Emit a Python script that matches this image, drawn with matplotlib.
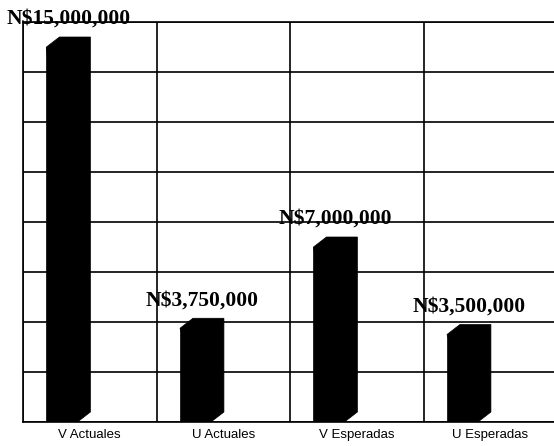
import matplotlib
matplotlib.use("Agg")
import matplotlib.pyplot as plt
import numpy as np

categories = ["V Actuales", "U Actuales", "V Esperadas", "U Esperadas"]
values = [15000000, 3750000, 7000000, 3500000]
value_labels = ["N$15,000,000", "N$3,750,000", "N$7,000,000", "N$3,500,000"]

fig = plt.figure(figsize=(5.54, 4.46), dpi=100)
# plot area runs past the right edge of the picture, like the scanned original
ax = fig.add_axes([23 / 554, 24 / 446, 534 / 554, 400 / 446])

x = np.arange(len(categories))
front_w = 0.232       # width of the bar front face
depth_x = 0.097       # 3D depth offset, category units
depth_y = 400000      # 3D depth offset, value units
front_left = x - 0.324

# front faces
ax.bar(front_left + front_w / 2, values, width=front_w, color="black",
       edgecolor="black", linewidth=0.5, zorder=3)

# top and side faces of the 3D bars
for xl, v in zip(front_left, values):
    xs = [xl, xl + depth_x, xl + front_w + depth_x, xl + front_w + depth_x, xl + front_w]
    ys = [v, v + depth_y, v + depth_y, depth_y, 0]
    ax.fill(xs, ys, color="black", linewidth=0.5, zorder=3)

# value labels above each bar
for xl, v, lab in zip(front_left, values, value_labels):
    ax.annotate(lab, xy=(xl + (front_w + depth_x) / 2, v + depth_y),
                xytext=(0, 13), textcoords="offset pixels",
                ha="center", va="baseline", fontsize=15.5, fontweight="bold",
                family="Liberation Serif", color="black", zorder=4,
                annotation_clip=False)

ax.set_xlim(-0.5, len(categories) - 0.5)
ax.set_ylim(0, 16000000)
ax.set_yticks(np.arange(0, 16000001, 2000000))
ax.set_yticklabels([])
ax.set_xticks(x)
ax.set_xticklabels(categories, family="Liberation Sans", fontsize=9.5)
ax.set_xticks(np.arange(len(categories) + 1) - 0.5, minor=True)
ax.tick_params(axis="both", which="both", length=0, pad=5)

ax.grid(True, axis="y", which="major", color="black", linewidth=1.2, zorder=0)
ax.grid(True, axis="x", which="minor", color="black", linewidth=1.2, zorder=0)
ax.set_axisbelow(True)
for side in ["left", "bottom", "top"]:
    ax.spines[side].set_linewidth(1.2)
ax.spines["right"].set_visible(False)

fig.savefig("out.png", dpi=100)
